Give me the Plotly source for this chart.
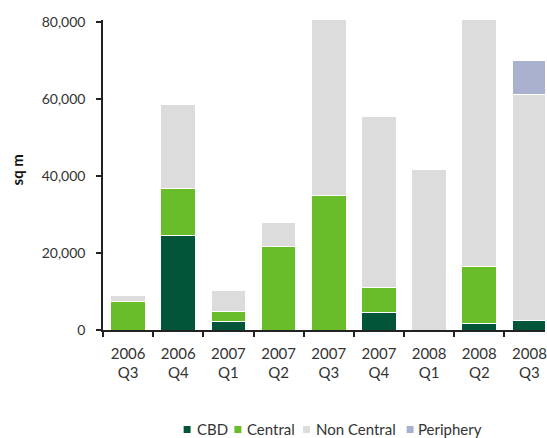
import plotly.graph_objects as go

categories = ["2006<br>Q3", "2006<br>Q4", "2007<br>Q1", "2007<br>Q2", "2007<br>Q3",
              "2007<br>Q4", "2008<br>Q1", "2008<br>Q2", "2008<br>Q3"]
series_names = ["CBD", "Central", "Non Central", "Periphery"]
cbd = [0, 24600, 2200, 0, 0, 4500, 0, 1600, 2400]
central = [7400, 12300, 2550, 21600, 35100, 6500, 0, 14800, 0]
non_central = [1600, 21800, 5550, 6450, 50000, 44400, 41800, 68000, 58800]
periphery = [0, 0, 0, 0, 0, 0, 0, 0, 8800]
y_ticks = [0, 20000, 40000, 60000, 80000]
y_tick_labels = ["0", "20,000", "40,000", "60,000", "80,000"]
y_title = "sq m"

colors = ["#03553a", "#6abd2a", "#dcdcdc", "#a9b1cf"]
values = [cbd, central, non_central, periphery]
FONT = "Lato, 'Open Sans', sans-serif"
TEXT = "#333333"

fig = go.Figure()
for name, vals, col in zip(series_names, values, colors):
    fig.add_trace(go.Bar(
        x=categories, y=vals, name=name,
        marker=dict(color=col, line=dict(color="white", width=1)),
        showlegend=False,
    ))

W, H = 547, 438
L, R, T, B = 103, 0, 20, 108
pw = W - L - R
ph = H - T - B


def px_x(p):
    return (p - L) / pw


def px_y(p):
    return (H - B - p) / ph


fig.update_layout(
    width=W, height=H, autosize=False,
    margin=dict(l=L, r=R, t=T, b=B, pad=0),
    barmode="stack", bargap=0.31,
    plot_bgcolor="white", paper_bgcolor="white",
    font=dict(family=FONT, size=14, color=TEXT),
    xaxis=dict(
        type="category", range=[-0.5, 8.31], tickson="boundaries",
        ticks="outside", ticklen=5, tickwidth=1.5, tickcolor="#222",
        showline=True, linecolor="#222", linewidth=1.5,
        showgrid=False, zeroline=False, ticklabelstandoff=9,
        tickfont=dict(family=FONT, size=15, color=TEXT),
    ),
    yaxis=dict(
        range=[0, 80600], tickvals=y_ticks, ticktext=y_tick_labels,
        ticks="outside", ticklen=5, tickwidth=1.5, tickcolor="#222",
        showline=True, linecolor="#222", linewidth=1.5,
        showgrid=False, zeroline=False, ticklabelstandoff=8,
        tickfont=dict(family=FONT, size=14, color=TEXT),
    ),
)

# y-axis title
fig.add_annotation(
    text=f"<b>{y_title}</b>", textangle=-90, showarrow=False,
    xref="paper", yref="paper", x=px_x(17), y=px_y(170),
    xanchor="center", yanchor="middle",
    font=dict(family=FONT, size=15, color="#111"),
)

# custom legend: squares + labels
sq_x = [184, 235, 304, 408]
txt_x = [195, 246, 315, 417]
legend_cy = 429.5
sq = 7
for name, col, sx, tx in zip(series_names, colors, sq_x, txt_x):
    fig.add_shape(
        type="rect", xref="paper", yref="paper",
        x0=px_x(sx), x1=px_x(sx + sq), y0=px_y(legend_cy + sq / 2), y1=px_y(legend_cy - sq / 2),
        fillcolor=col, line=dict(width=0),
    )
    fig.add_annotation(
        text=name, showarrow=False,
        xref="paper", yref="paper", x=px_x(tx), y=px_y(440),
        xanchor="left", yanchor="bottom",
        font=dict(family=FONT, size=15, color=TEXT),
    )

fig.write_html("out.html")
